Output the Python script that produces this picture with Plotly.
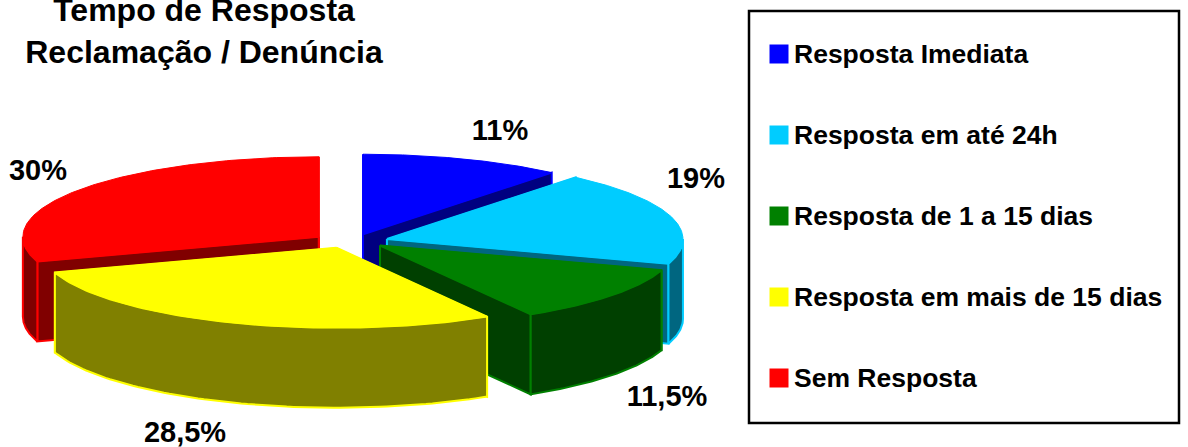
import numpy as np
import plotly.graph_objects as go

categories = ["Resposta Imediata", "Resposta em até 24h", "Resposta de 1 a 15 dias",
              "Resposta em mais de 15 dias", "Sem Resposta"]
values = [11, 19, 11.5, 28.5, 30]
value_labels = ["11%", "19%", "11,5%", "28,5%", "30%"]
top_colors = ["#0000ff", "#00ccff", "#008000", "#ffff00", "#ff0000"]
wall_colors = ["#000080", "#006680", "#004000", "#808000", "#800000"]
draw_order = [0, 4, 1, 2, 3]

CX, CY, RX, RY, DEPTH, PULL_X, PULL_Y = 350, 241, 296, 80, 80, 0.13, 0.09
label_pos = [(500, 132.5), (696, 180.5), (667, 398.5), (185, 434.5), (38, 172.5)]
FONT = "Liberation Sans, Arial, sans-serif"

total = sum(values)
edges = np.cumsum([0] + values) / total * 2 * np.pi


def pt(a, cx, cy):
    return cx + RX * np.sin(a), cy - RY * np.cos(a)


fig = go.Figure()


def poly(xs, ys, fill, line, width=2):
    fig.add_trace(go.Scatter(x=list(xs), y=list(ys), mode="lines", fill="toself",
                             fillcolor=fill, line=dict(color=line, width=width),
                             hoverinfo="skip", showlegend=False))


for i in draw_order:
    a0, a1 = edges[i], edges[i + 1]
    mid = (a0 + a1) / 2
    cx = CX + PULL_X * RX * np.sin(mid)
    cy = CY - PULL_Y * RY * np.cos(mid)
    # radial walls
    for a in (a0, a1):
        ex, ey = pt(a, cx, cy)
        poly([cx, ex, ex, cx, cx], [cy, ey, ey + DEPTH, cy + DEPTH, cy],
             wall_colors[i], top_colors[i])
    # outer wall: only the arc facing the viewer
    lo, hi = max(a0, np.pi / 2), min(a1, 3 * np.pi / 2)
    if hi > lo:
        t = np.linspace(lo, hi, 80)
        xs, ys = pt(t, cx, cy)
        poly(np.r_[xs, xs[::-1], xs[0]], np.r_[ys, ys[::-1] + DEPTH, ys[0]],
             wall_colors[i], top_colors[i])
    # top face
    t = np.linspace(a0, a1, 120)
    xs, ys = pt(t, cx, cy)
    poly(np.r_[cx, xs, cx], np.r_[cy, ys, cy], top_colors[i], top_colors[i], 1)

# value labels
fig.add_trace(go.Scatter(x=[p[0] for p in label_pos], y=[p[1] for p in label_pos],
                         mode="text", text=value_labels, textposition="middle center",
                         textfont=dict(family=FONT, size=29, color="black", weight="bold"),
                         hoverinfo="skip", showlegend=False))

# legend box + entries
LEG_X0, LEG_Y0, LEG_X1, LEG_Y1 = 749, 11, 1179, 423
LEG_MARK_X, LEG_TEXT_X, LEG_FIRST_Y, LEG_STEP = 779, 794, 54, 81
fig.add_shape(type="rect", x0=LEG_X0, y0=LEG_Y0, x1=LEG_X1, y1=LEG_Y1,
              line=dict(color="black", width=2.5), fillcolor="white", layer="below")
for i, name in enumerate(categories):
    y = LEG_FIRST_Y + i * LEG_STEP
    fig.add_trace(go.Scatter(x=[LEG_MARK_X], y=[y], mode="markers", name=name,
                             marker=dict(symbol="square", size=19, color=top_colors[i]),
                             hoverinfo="name", showlegend=False))
    fig.add_annotation(x=LEG_TEXT_X, y=y, text=name, showarrow=False, xanchor="left",
                       yanchor="middle", xshift=-2,
                       font=dict(family=FONT, size=26.5, color="black", weight="bold"))

fig.update_layout(
    width=1188, height=447, margin=dict(l=0, r=0, t=0, b=0),
    paper_bgcolor="white", plot_bgcolor="white", showlegend=False,
    title=dict(text="<b>Tempo de Resposta<br>Reclamação / Denúncia</b>",
               x=204 / 1188, xanchor="center", y=1 - 21 / 447, yanchor="middle",
               font=dict(family=FONT, size=32, color="black")),
    xaxis=dict(range=[0, 1188], visible=False, fixedrange=True),
    yaxis=dict(range=[447, 0], visible=False, fixedrange=True),
)
fig.write_html("out.html", config=dict(displayModeBar=False),
               post_script="document.body.style.margin='0';")
